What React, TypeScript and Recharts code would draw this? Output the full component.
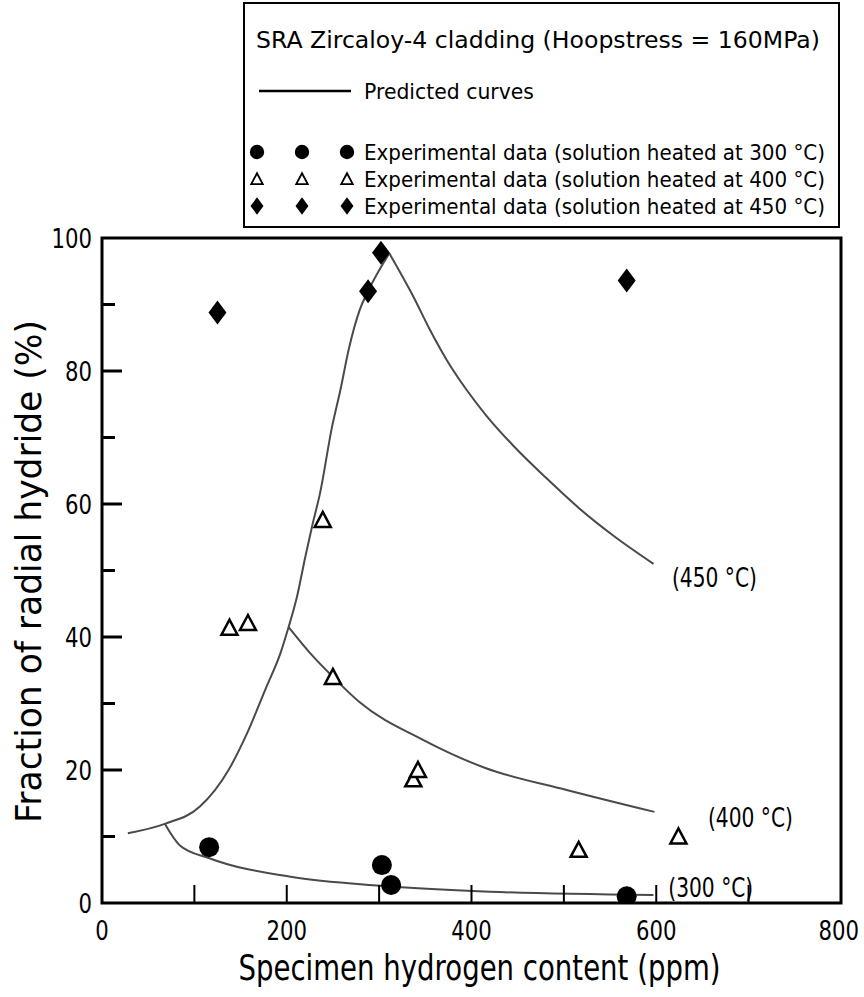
import React from 'react';
import {
  ScatterChart,
  Scatter,
  XAxis,
  YAxis,
  ReferenceArea,
  ReferenceDot,
  Legend
} from 'recharts';

// experimental points (x = ppm H, y = % radial hydride)
const data300 = [
  { x: 116, y: 8.4 },
  { x: 303, y: 5.7 },
  { x: 313, y: 2.7 },
  { x: 568, y: 1.0 }
];
const data400 = [
  { x: 138, y: 41.4 },
  { x: 158, y: 42.1 },
  { x: 239, y: 57.6 },
  { x: 250, y: 34.0 },
  { x: 337, y: 18.6 },
  { x: 342, y: 20.0 },
  { x: 516, y: 8.0 },
  { x: 624, y: 10.0 }
];
const data450 = [
  { x: 125, y: 88.8 },
  { x: 288, y: 92.0 },
  { x: 302, y: 97.8 },
  { x: 568, y: 93.6 }
];

// predicted curves
const risingCurve = [
  { x: 28, y: 10.5 },
  { x: 68, y: 11.9 },
  { x: 106, y: 14.5 },
  { x: 137, y: 20.0 },
  { x: 157, y: 25.5 },
  { x: 178, y: 32.5 },
  { x: 193, y: 37.5 },
  { x: 202, y: 41.5 },
  { x: 211, y: 46 },
  { x: 220, y: 52 },
  { x: 228, y: 57 },
  { x: 236, y: 61.6 },
  { x: 249, y: 71.6 },
  { x: 258, y: 77.1 },
  { x: 267, y: 83.2 },
  { x: 279, y: 89.2 },
  { x: 288, y: 92 },
  { x: 311, y: 97.7 }
];
const curve300 = [
  { x: 68, y: 11.9 },
  { x: 84, y: 8.7 },
  { x: 117, y: 6.7 },
  { x: 204, y: 3.95 },
  { x: 301, y: 2.6 },
  { x: 420, y: 1.7 },
  { x: 597, y: 1.2 }
];
const curve400 = [
  { x: 202, y: 41.5 },
  { x: 229, y: 37 },
  { x: 250, y: 34 },
  { x: 278, y: 30.3 },
  { x: 348, y: 24.5 },
  { x: 415, y: 20.3 },
  { x: 503, y: 17 },
  { x: 598, y: 13.7 }
];
const curve450 = [
  { x: 311, y: 97.7 },
  { x: 337, y: 91.2 },
  { x: 355, y: 86.2 },
  { x: 373, y: 81.7 },
  { x: 395, y: 77.1 },
  { x: 416, y: 73.3 },
  { x: 445, y: 68.8 },
  { x: 481, y: 63.9 },
  { x: 517, y: 59.3 },
  { x: 553, y: 55.3 },
  { x: 597, y: 51.0 }
];

const curveLabels = [
  { x: 617, y: 49, text: '(450 °C)' },
  { x: 656, y: 12.9, text: '(400 °C)' },
  { x: 613, y: 2.4, text: '(300 °C)' }
];

const xTicks = [0, 100, 200, 300, 400, 500, 600, 700, 800];
const yTicks = [0, 10, 20, 30, 40, 50, 60, 70, 80, 90, 100];

const xTitle = 'Specimen hydrogen content (ppm)';
const yTitle = 'Fraction of radial hydride (%)';
const legendTitle = 'SRA Zircaloy-4 cladding (Hoopstress = 160MPa)';
const legendLine = 'Predicted curves';
const legendRows = [
  'Experimental data (solution heated at 300 °C)',
  'Experimental data (solution heated at 400 °C)',
  'Experimental data (solution heated at 450 °C)'
];

const W = 864;
const H = 997;
const PLOT_LEFT = 102;
const PLOT_TOP = 238;
const PLOT_RIGHT = 841;
const PLOT_BOTTOM = 903;

const font = "'DejaVu Sans', sans-serif";
const curveColor = '#4a4a4a';

const Dot = (p: any) => <circle cx={p.cx} cy={p.cy} r={10} fill="#000" />;
const Tri = (p: any) => (
  <polygon
    points={`${p.cx - 8},${p.cy + 7} ${p.cx + 8},${p.cy + 7} ${p.cx},${p.cy - 8}`}
    fill="#fff"
    stroke="#000"
    strokeWidth={2.5}
  />
);
const Diamond = (p: any) => (
  <polygon
    points={`${p.cx},${p.cy - 12} ${p.cx + 9},${p.cy} ${p.cx},${p.cy + 12} ${p.cx - 9},${p.cy}`}
    fill="#000"
  />
);
const NoDot = () => <g />;

// narrow, tall digits like the scanned figure
const Num = ({ x, y, anchor, v }: any) => {
  const s = String(v);
  return (
    <text
      x={x}
      y={y}
      textAnchor={anchor}
      fontFamily={font}
      fontSize={27}
      textLength={s.length * 13.5}
      lengthAdjust="spacingAndGlyphs"
      fill="#000"
    >
      {s}
    </text>
  );
};

const YTick = (p: any) => {
  const v = p.payload.value;
  const major = v % 20 === 0;
  return (
    <g>
      {v !== 0 && v !== 100 && (
        <line x1={PLOT_LEFT} x2={PLOT_LEFT + (major ? 20 : 13)} y1={p.y} y2={p.y} stroke="#000" strokeWidth={3} />
      )}
      {major && <Num x={PLOT_LEFT - 10} y={p.y + 10} anchor="end" v={v} />}
    </g>
  );
};

const XTick = (p: any) => {
  const v = p.payload.value;
  const last = v === 800;
  return (
    <g>
      {v !== 0 && !last && (
        <line x1={p.x} x2={p.x} y1={PLOT_BOTTOM} y2={PLOT_BOTTOM - 18} stroke="#000" strokeWidth={2} />
      )}
      {v % 200 === 0 && (
        <Num x={last ? p.x + 18 : p.x} y={PLOT_BOTTOM + 37} anchor={last ? 'end' : 'middle'} v={v} />
      )}
    </g>
  );
};

const legendMarkers = [Dot, Tri, Diamond];

const LegendBox = () => (
  <svg width={W} height={240} style={{ position: 'absolute', left: 0, top: 0 }}>
    <rect x={244} y={3} width={595} height={224} fill="#fff" stroke="#000" strokeWidth={2} />
    <text x={256} y={48} fontFamily={font} fontSize={23} textLength={564} lengthAdjust="spacingAndGlyphs">
      {legendTitle}
    </text>
    <line x1={259} x2={351} y1={91} y2={91} stroke="#000" strokeWidth={2.5} />
    <text x={364} y={99} fontFamily={font} fontSize={21} textLength={170} lengthAdjust="spacingAndGlyphs">
      {legendLine}
    </text>
    {legendRows.map((t, i) => {
      const M = legendMarkers[i];
      const cy = 152 + i * 27;
      return (
        <g key={t}>
          {[257, 302, 347].map((cx) => (
            <g key={cx} transform={`translate(${cx},${cy}) scale(0.72)`}>
              <M cx={0} cy={0} />
            </g>
          ))}
          <text x={364} y={cy + 8} fontFamily={font} fontSize={21} textLength={461} lengthAdjust="spacingAndGlyphs">
            {t}
          </text>
        </g>
      );
    })}
  </svg>
);

export default function App() {
  return (
    <div style={{ position: 'absolute', left: 0, top: 0, width: W, height: H, background: '#fff' }}>
      <ScatterChart
        width={W}
        height={H}
        margin={{ top: PLOT_TOP, right: W - PLOT_RIGHT, left: 0, bottom: 44 }}
      >
        <XAxis
          type="number"
          dataKey="x"
          domain={[0, 800]}
          ticks={xTicks}
          tick={<XTick />}
          tickLine={false}
          axisLine={false}
          height={H - PLOT_BOTTOM - 44}
          allowDataOverflow
          label={(props: any) => {
            const vb = props.viewBox;
            return (
              <text
                x={vb.x + vb.width / 2 + 8}
                y={PLOT_BOTTOM + 77}
                textAnchor="middle"
                fontFamily={font}
                fontSize={35}
                textLength={482}
                lengthAdjust="spacingAndGlyphs"
                fill="#000"
              >
                {xTitle}
              </text>
            );
          }}
        />
        <YAxis
          type="number"
          dataKey="y"
          domain={[0, 100]}
          ticks={yTicks}
          tick={<YTick />}
          tickLine={false}
          axisLine={false}
          width={PLOT_LEFT}
          allowDataOverflow
          label={(props: any) => {
            const vb = props.viewBox;
            const cx = 41;
            const cy = vb.y + vb.height / 2 + 1;
            return (
              <text
                x={cx}
                y={cy}
                transform={`rotate(-90, ${cx}, ${cy})`}
                textAnchor="middle"
                fontFamily={font}
                fontSize={35}
                textLength={503}
                lengthAdjust="spacingAndGlyphs"
                fill="#000"
              >
                {yTitle}
              </text>
            );
          }}
        />
        <ReferenceArea x1={0} x2={800} y1={0} y2={100} fill="none" stroke="#000" strokeWidth={3} ifOverflow="visible" />
        <Scatter data={risingCurve} line={{ stroke: curveColor, strokeWidth: 2 }} lineJointType="monotoneX" shape={NoDot} isAnimationActive={false} />
        <Scatter data={curve300} line={{ stroke: curveColor, strokeWidth: 2 }} lineJointType="monotoneX" shape={NoDot} isAnimationActive={false} />
        <Scatter data={curve400} line={{ stroke: curveColor, strokeWidth: 2 }} lineJointType="monotoneX" shape={NoDot} isAnimationActive={false} />
        <Scatter data={curve450} line={{ stroke: curveColor, strokeWidth: 2 }} lineJointType="monotoneX" shape={NoDot} isAnimationActive={false} />
        <Scatter data={data400} shape={Tri} isAnimationActive={false} />
        <Scatter data={data450} shape={Diamond} isAnimationActive={false} />
        <Scatter data={data300} shape={Dot} isAnimationActive={false} />
        {curveLabels.map((l) => (
          <ReferenceDot
            key={l.text}
            x={l.x}
            y={l.y}
            r={0}
            fill="none"
            stroke="none"
            ifOverflow="visible"
            label={(props: any) => {
              const vb = props.viewBox;
              return (
                <text
                  x={vb.x}
                  y={vb.y}
                  dy={10}
                  fontFamily={font}
                  fontSize={26}
                  textLength={85}
                  lengthAdjust="spacingAndGlyphs"
                  fill="#000"
                >
                  {l.text}
                </text>
              );
            }}
          />
        ))}
        <Legend content={<LegendBox />} wrapperStyle={{ position: 'absolute', left: 0, top: 0, width: 0, height: 0 }} />
      </ScatterChart>
    </div>
  );
}
